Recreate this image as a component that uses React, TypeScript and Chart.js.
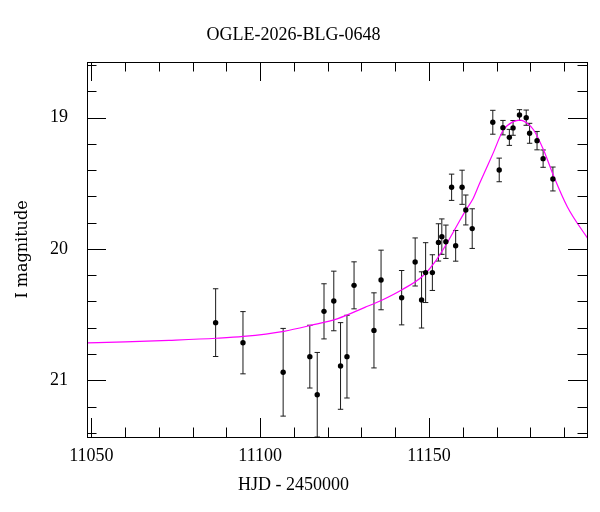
import React, { useEffect, useRef } from 'react';
import { Chart, registerables } from 'chart.js';

Chart.register(...registerables);

const titleText = 'OGLE-2026-BLG-0648';
const xAxisLabel = 'HJD - 2450000';
const yAxisLabel = 'I magnitude';

const obsHJD = [
  11086.8, 11094.9, 11106.8, 11114.7, 11116.9, 11118.9, 11121.8, 11123.8, 11125.7,
  11127.8, 11133.7, 11135.8, 11141.9, 11145.9, 11147.8, 11149.0, 11151.0, 11152.8,
  11153.8, 11155.0, 11156.7, 11157.9, 11159.8, 11160.9, 11162.8, 11168.9, 11170.8,
  11171.9, 11173.8, 11174.9, 11176.8, 11178.8, 11179.8, 11182.0, 11183.8, 11186.7,
];
const obsMag = [
  20.561, 20.714, 20.939, 20.82, 21.11, 20.475, 20.396, 20.891, 20.82,
  20.277, 20.62, 20.236, 20.371, 20.099, 20.388, 20.18, 20.18, 19.95,
  19.906, 19.945, 19.53, 19.976, 19.53, 19.703, 19.845, 19.035, 19.398,
  19.076, 19.15, 19.078, 18.98, 19.0, 19.119, 19.175, 19.312, 19.467,
];
const obsErr = [
  0.258, 0.237, 0.334, 0.239, 0.322, 0.21, 0.227, 0.33, 0.315,
  0.179, 0.286, 0.227, 0.207, 0.183, 0.214, 0.228, 0.136, 0.142,
  0.135, 0.127, 0.1, 0.117, 0.13, 0.114, 0.151, 0.091, 0.09,
  0.055, 0.061, 0.056, 0.041, 0.058, 0.076, 0.07, 0.066, 0.091,
];

const modelHJD = [
  11048, 11060, 11073, 11087, 11095, 11107, 11115, 11123, 11131, 11136, 11142,
  11148, 11152, 11155, 11158, 11161, 11163, 11165, 11167, 11169, 11172, 11175,
  11177, 11179, 11181, 11184, 11187, 11191, 11197,
];
const modelMag = [
  20.716, 20.708, 20.696, 20.68, 20.666, 20.627, 20.582, 20.53, 20.445, 20.39, 20.31,
  20.21, 20.09, 19.97, 19.835, 19.7, 19.62, 19.5, 19.385, 19.27, 19.094, 19.03,
  19.018, 19.04, 19.094, 19.25, 19.45, 19.68, 19.92,
];

const xTickLabels = [11050, 11100, 11150];
const yTickLabels = [19, 20, 21];
const xMin = 11048.7;
const xMax = 11196.8;
const yMin = 18.576;
const yMax = 21.432;
const xMinorStep = 10;
const yMinorStep = 0.2;

const serif = "'Liberation Serif', 'Times New Roman', serif";
const RIGHT_PAD = 13;

const decorPlugin = {
  id: 'decor',
  beforeDatasetsDraw(chart: any) {
    const { ctx, chartArea, scales } = chart;
    const xs = scales.x;
    const ys = scales.y;
    ctx.save();
    ctx.beginPath();
    ctx.rect(chartArea.left, chartArea.top, chartArea.right - chartArea.left, chartArea.bottom - chartArea.top);
    ctx.clip();
    ctx.strokeStyle = '#1a1a1a';
    ctx.lineWidth = 1;
    const cap = 2.7;
    ctx.beginPath();
    for (let i = 0; i < obsHJD.length; i++) {
      const px = xs.getPixelForValue(obsHJD[i]);
      const y1 = ys.getPixelForValue(obsMag[i] - obsErr[i]);
      const y2 = ys.getPixelForValue(obsMag[i] + obsErr[i]);
      ctx.moveTo(px, y1);
      ctx.lineTo(px, y2);
      ctx.moveTo(px - cap, y1);
      ctx.lineTo(px + cap, y1);
      ctx.moveTo(px - cap, y2);
      ctx.lineTo(px + cap, y2);
    }
    ctx.stroke();
    ctx.restore();
  },
  afterDraw(chart: any) {
    const { ctx, chartArea, scales } = chart;
    const { left, right, top, bottom } = chartArea;
    const xs = scales.x;
    const ys = scales.y;
    ctx.save();
    ctx.strokeStyle = '#000';
    ctx.lineWidth = 1;
    ctx.strokeRect(Math.round(left) + 0.5, Math.round(top) + 0.5, Math.round(right - left), Math.round(bottom - top));
    ctx.beginPath();
    const startX = Math.ceil(xMin / xMinorStep) * xMinorStep;
    for (let i = 0; ; i++) {
      const v = startX + i * xMinorStep;
      if (v > xMax) break;
      const px = Math.round(xs.getPixelForValue(v)) + 0.5;
      const major = xTickLabels.includes(v);
      const len = major ? 19 : 9.5;
      ctx.moveTo(px, bottom);
      ctx.lineTo(px, bottom - len);
      ctx.moveTo(px, top);
      ctx.lineTo(px, top + len);
    }
    const startY = Math.ceil(yMin / yMinorStep - 1e-6) * yMinorStep;
    for (let i = 0; ; i++) {
      const v = Math.round((startY + i * yMinorStep) * 1000) / 1000;
      if (v > yMax) break;
      const py = Math.round(ys.getPixelForValue(v)) + 0.5;
      const major = yTickLabels.some((t) => Math.abs(t - v) < 1e-6);
      const len = major ? 19 : 9.5;
      ctx.moveTo(left, py);
      ctx.lineTo(left + len, py);
      ctx.moveTo(right, py);
      ctx.lineTo(right - len, py);
    }
    ctx.stroke();

    // x-axis title, centred on the page like the main title
    ctx.fillStyle = '#000';
    ctx.font = `18px ${serif}`;
    ctx.textAlign = 'center';
    ctx.textBaseline = 'middle';
    ctx.fillText(xAxisLabel, (chart.width - RIGHT_PAD) / 2, 485);
    ctx.restore();
  },
};

export default function App() {
  const canvasRef = useRef<HTMLCanvasElement | null>(null);

  useEffect(() => {
    const canvas = canvasRef.current;
    if (!canvas) return;
    const chart = new Chart(canvas, {
      type: 'scatter',
      data: {
        datasets: [
          {
            label: 'model',
            data: modelHJD.map((x, i) => ({ x, y: modelMag[i] })),
            showLine: true,
            borderColor: '#ff00ff',
            borderWidth: 1.2,
            pointRadius: 0,
            cubicInterpolationMode: 'monotone',
            order: 2,
          } as any,
          {
            label: 'OGLE',
            data: obsHJD.map((x, i) => ({ x, y: obsMag[i] })),
            backgroundColor: '#000',
            borderWidth: 0,
            pointRadius: 2.7,
            order: 1,
          },
        ],
      },
      options: {
        animation: false,
        responsive: false,
        maintainAspectRatio: false,
        events: [],
        layout: { padding: { left: 0, right: RIGHT_PAD, top: 0, bottom: 0 } },
        plugins: {
          legend: { display: false },
          tooltip: { enabled: false },
          title: {
            display: true,
            text: titleText,
            color: '#000',
            font: { family: serif, size: 18, weight: 'normal' },
            padding: { top: 24, bottom: 16.4 },
          },
        },
        scales: {
          x: {
            type: 'linear',
            min: xMin,
            max: xMax,
            grid: { display: false, drawTicks: false },
            border: { display: false },
            afterBuildTicks: (s: any) => {
              s.ticks = xTickLabels.map((v) => ({ value: v }));
            },
            afterFit: (s: any) => {
              s.height = 75;
            },
            ticks: {
              color: '#000',
              font: { family: serif, size: 18 },
              padding: 8,
              maxRotation: 0,
              autoSkip: false,
              callback: (v: any) => String(v),
            },
            title: { display: false },
          },
          y: {
            type: 'linear',
            reverse: true,
            min: yMin,
            max: yMax,
            grid: { display: false, drawTicks: false },
            border: { display: false },
            afterBuildTicks: (s: any) => {
              s.ticks = yTickLabels.map((v) => ({ value: v }));
            },
            afterFit: (s: any) => {
              s.width = 87;
            },
            ticks: {
              color: '#000',
              font: { family: serif, size: 18 },
              padding: 19,
              autoSkip: false,
              callback: (v: any) => String(v),
            },
            title: {
              display: true,
              text: yAxisLabel,
              color: '#000',
              font: { family: "'DejaVu Serif', serif", size: 16 },
              padding: { top: 13, bottom: 0 },
            },
          },
        },
      },
      plugins: [decorPlugin],
    } as any);
    return () => chart.destroy();
  }, []);

  return (
    <div style={{ position: 'absolute', left: 0, top: 0, width: 600, height: 512, background: '#fff' }}>
      <canvas ref={canvasRef} width={600} height={512} style={{ width: 600, height: 512, display: 'block' }} />
    </div>
  );
}
